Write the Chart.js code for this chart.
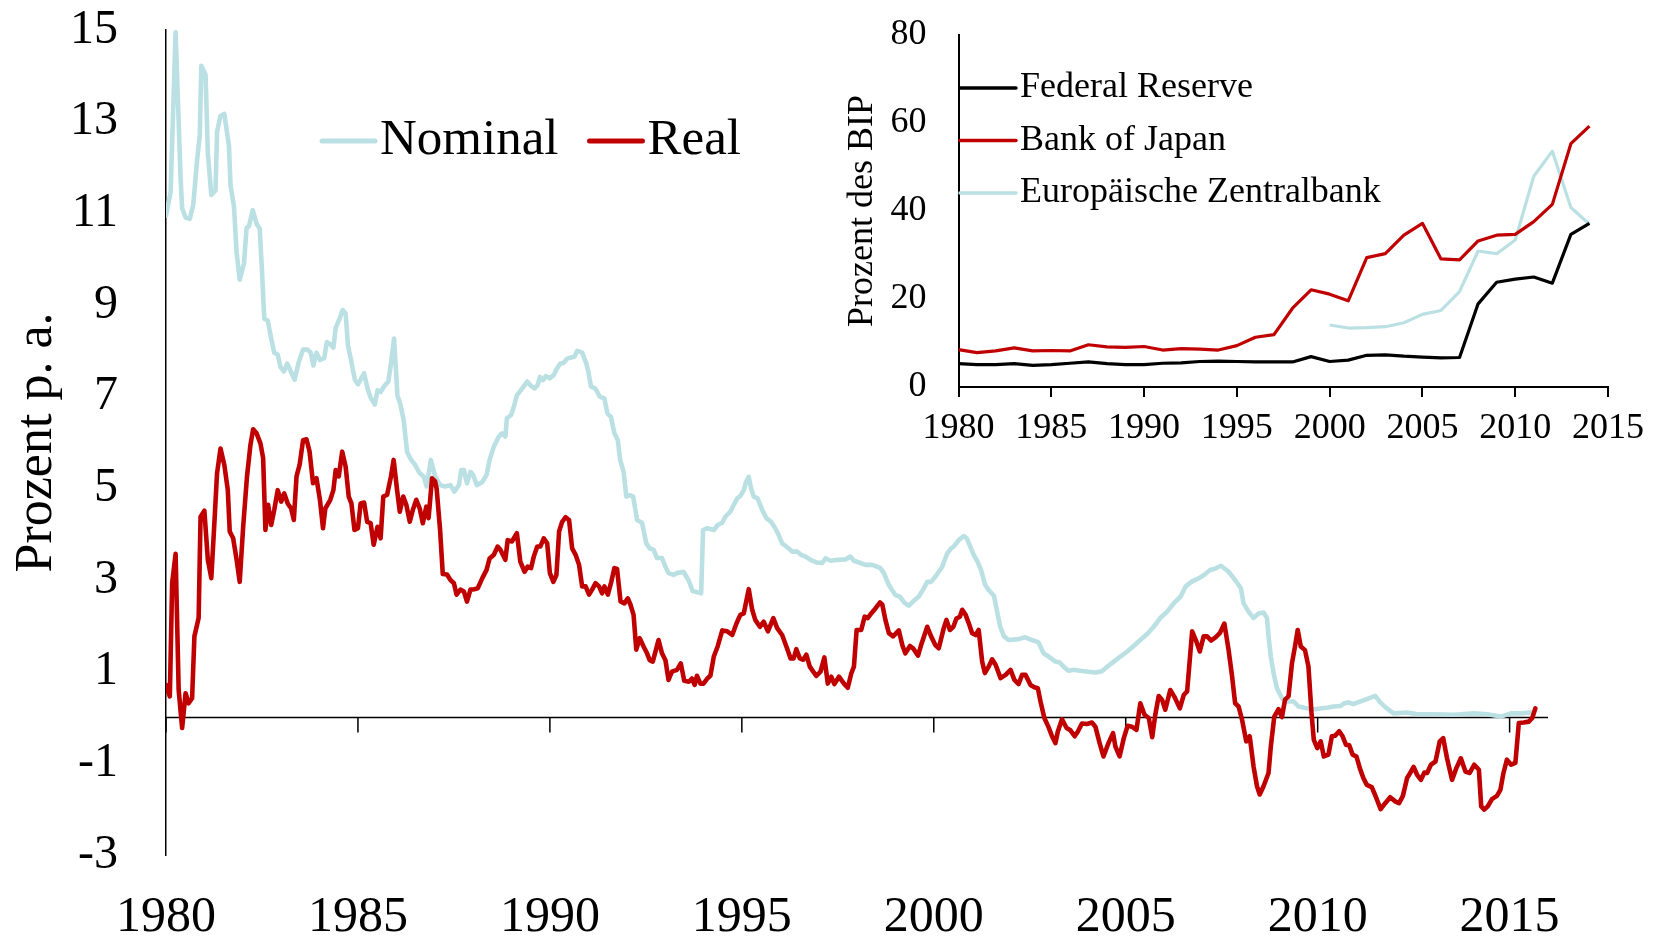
<!DOCTYPE html>
<html lang="de">
<head>
<meta charset="utf-8">
<title>Zinsen und Zentralbankbilanzen</title>
<script src="https://cdn.jsdelivr.net/npm/chart.js"></script>
<style>
  html, body { margin: 0; padding: 0; background: #fff; }
  #wrap { position: relative; width: 1659px; height: 941px; }
  #wrap canvas { position: absolute; left: 0; top: 0; }
  #inset { pointer-events: none; }
</style>
</head>
<body>
<div id="wrap">
  <canvas id="haupt" width="1659" height="941"></canvas>
  <canvas id="inset" width="1659" height="941"></canvas>
</div>
<script>
// Hauptgrafik: Zinsen in Prozent p. a., Punkte [Jahr, Wert]
const nominal = [
  [1980.00, 10.95], [1980.12, 11.46], [1980.25, 14.95], [1980.38, 11.77], [1980.42, 11.11],
  [1980.51, 10.91], [1980.62, 10.88], [1980.71, 11.19], [1980.81, 12.16], [1980.88, 12.70],
  [1980.92, 14.22], [1981.03, 14.03], [1981.09, 12.32], [1981.18, 11.40], [1981.29, 11.50],
  [1981.33, 12.78], [1981.42, 13.13], [1981.52, 13.17], [1981.64, 12.47], [1981.68, 11.62],
  [1981.77, 11.15], [1981.84, 10.14], [1981.92, 9.55], [1982.03, 9.90], [1982.10, 10.68],
  [1982.16, 10.72], [1982.26, 11.07], [1982.36, 10.77], [1982.44, 10.67], [1982.50, 9.75],
  [1982.56, 8.70], [1982.65, 8.66], [1982.74, 8.27], [1982.82, 7.96], [1982.91, 7.92],
  [1982.98, 7.65], [1983.07, 7.55], [1983.16, 7.72], [1983.24, 7.57], [1983.35, 7.37],
  [1983.46, 7.76], [1983.57, 8.03], [1983.68, 8.03], [1983.77, 7.96], [1983.84, 7.68],
  [1983.92, 7.96], [1984.01, 7.80], [1984.12, 7.84], [1984.19, 8.19], [1984.27, 8.15],
  [1984.36, 8.07], [1984.42, 8.50], [1984.53, 8.72], [1984.60, 8.89], [1984.68, 8.81],
  [1984.74, 8.11], [1984.81, 7.84], [1984.92, 7.37], [1985.00, 7.27], [1985.16, 7.51],
  [1985.25, 7.18], [1985.33, 6.98], [1985.44, 6.83], [1985.51, 7.14], [1985.59, 7.10],
  [1985.68, 7.22], [1985.79, 7.33], [1985.86, 7.72], [1985.94, 8.27], [1986.03, 7.02],
  [1986.10, 6.85], [1986.19, 6.49], [1986.28, 5.80], [1986.38, 5.63], [1986.49, 5.51],
  [1986.60, 5.34], [1986.71, 5.26], [1986.79, 5.04], [1986.90, 5.62], [1987.01, 5.26],
  [1987.14, 5.07], [1987.27, 5.04], [1987.41, 5.07], [1987.51, 4.93], [1987.63, 5.07],
  [1987.69, 5.40], [1987.76, 5.40], [1987.84, 5.11], [1987.93, 5.36], [1988.00, 5.29],
  [1988.10, 5.07], [1988.24, 5.14], [1988.35, 5.29], [1988.43, 5.62], [1988.54, 5.91],
  [1988.67, 6.13], [1988.75, 6.20], [1988.84, 6.13], [1988.88, 6.53], [1988.99, 6.60],
  [1989.06, 6.78], [1989.14, 7.03], [1989.28, 7.18], [1989.41, 7.33], [1989.49, 7.25],
  [1989.60, 7.18], [1989.68, 7.25], [1989.74, 7.43], [1989.82, 7.36], [1989.89, 7.45],
  [1990.00, 7.40], [1990.10, 7.47], [1990.18, 7.61], [1990.27, 7.72], [1990.36, 7.74],
  [1990.45, 7.83], [1990.58, 7.86], [1990.64, 7.87], [1990.71, 8.00], [1990.84, 7.96],
  [1990.95, 7.72], [1991.01, 7.51], [1991.07, 7.22], [1991.18, 7.18], [1991.30, 7.00],
  [1991.42, 6.96], [1991.50, 6.63], [1991.59, 6.56], [1991.68, 6.20], [1991.77, 6.05],
  [1991.83, 5.62], [1991.92, 5.36], [1991.99, 4.82], [1992.08, 4.85], [1992.17, 4.82],
  [1992.27, 4.31], [1992.40, 4.25], [1992.51, 3.80], [1992.60, 3.69], [1992.70, 3.66],
  [1992.79, 3.48], [1992.92, 3.48], [1993.01, 3.29], [1993.09, 3.15], [1993.22, 3.11],
  [1993.31, 3.15], [1993.48, 3.18], [1993.61, 3.00], [1993.72, 2.76], [1993.85, 2.73],
  [1993.94, 2.71], [1993.99, 4.09], [1994.10, 4.13], [1994.27, 4.09], [1994.37, 4.20],
  [1994.49, 4.25], [1994.57, 4.38], [1994.70, 4.49], [1994.79, 4.64], [1994.88, 4.78],
  [1994.96, 4.83], [1995.05, 4.96], [1995.11, 5.14], [1995.18, 5.25], [1995.24, 5.00],
  [1995.31, 4.82], [1995.41, 4.78], [1995.53, 4.53], [1995.64, 4.35], [1995.76, 4.27],
  [1995.87, 4.13], [1995.96, 3.98], [1996.05, 3.80], [1996.16, 3.73], [1996.31, 3.62],
  [1996.44, 3.62], [1996.54, 3.55], [1996.66, 3.51], [1996.79, 3.44], [1996.96, 3.38],
  [1997.09, 3.37], [1997.18, 3.47], [1997.31, 3.42], [1997.48, 3.44], [1997.70, 3.45],
  [1997.83, 3.51], [1997.92, 3.42], [1998.09, 3.37], [1998.22, 3.33], [1998.40, 3.33],
  [1998.52, 3.29], [1998.61, 3.26], [1998.70, 3.15], [1998.83, 2.89], [1999.00, 2.67],
  [1999.11, 2.64], [1999.24, 2.50], [1999.35, 2.44], [1999.46, 2.53], [1999.61, 2.64],
  [1999.72, 2.79], [1999.83, 2.96], [1999.93, 2.96], [2000.04, 3.07], [2000.22, 3.29],
  [2000.35, 3.58], [2000.45, 3.69], [2000.52, 3.73], [2000.65, 3.87], [2000.78, 3.96],
  [2000.86, 3.91], [2000.95, 3.73], [2001.04, 3.55], [2001.14, 3.40], [2001.23, 3.22],
  [2001.34, 2.89], [2001.43, 2.78], [2001.57, 2.65], [2001.64, 2.35], [2001.73, 1.98],
  [2001.83, 1.77], [2001.95, 1.69], [2002.21, 1.71], [2002.38, 1.75], [2002.56, 1.69],
  [2002.73, 1.64], [2002.86, 1.40], [2002.99, 1.33], [2003.17, 1.22], [2003.28, 1.20],
  [2003.38, 1.11], [2003.51, 1.02], [2003.64, 1.04], [2003.90, 1.01], [2004.21, 0.98],
  [2004.38, 1.01], [2004.51, 1.10], [2004.69, 1.22], [2004.86, 1.33], [2005.04, 1.44],
  [2005.19, 1.55], [2005.38, 1.69], [2005.56, 1.82], [2005.73, 1.98], [2005.90, 2.17],
  [2006.08, 2.31], [2006.25, 2.49], [2006.43, 2.64], [2006.56, 2.86], [2006.73, 2.97],
  [2006.91, 3.04], [2007.04, 3.11], [2007.20, 3.22], [2007.34, 3.25], [2007.48, 3.31],
  [2007.68, 3.18], [2007.85, 3.00], [2008.00, 2.82], [2008.07, 2.49], [2008.20, 2.31],
  [2008.33, 2.17], [2008.46, 2.27], [2008.59, 2.29], [2008.68, 2.17], [2008.72, 1.77],
  [2008.78, 1.33], [2008.85, 0.97], [2008.94, 0.64], [2009.07, 0.42], [2009.21, 0.35],
  [2009.37, 0.35], [2009.50, 0.24], [2009.72, 0.20], [2009.93, 0.18], [2010.11, 0.20],
  [2010.28, 0.22], [2010.41, 0.24], [2010.59, 0.25], [2010.69, 0.31], [2010.80, 0.33],
  [2010.93, 0.29], [2011.11, 0.35], [2011.28, 0.40], [2011.50, 0.47], [2011.63, 0.33],
  [2011.80, 0.20], [2011.98, 0.09], [2012.33, 0.11], [2012.59, 0.07], [2013.03, 0.07],
  [2013.55, 0.06], [2014.07, 0.09], [2014.42, 0.07], [2014.77, 0.02], [2015.03, 0.09],
  [2015.29, 0.09], [2015.55, 0.11]
];

const real = [
  [1980.00, 0.71], [1980.10, 0.46], [1980.16, 2.93], [1980.25, 3.57], [1980.33, 0.60],
  [1980.42, -0.23], [1980.51, 0.53], [1980.59, 0.31], [1980.68, 0.42], [1980.74, 1.77],
  [1980.85, 2.17], [1980.90, 4.38], [1981.00, 4.51], [1981.09, 3.44], [1981.18, 3.04],
  [1981.26, 4.24], [1981.33, 5.33], [1981.42, 5.87], [1981.52, 5.51], [1981.61, 4.96],
  [1981.66, 4.06], [1981.75, 3.91], [1981.84, 3.44], [1981.92, 2.96], [1982.01, 4.16],
  [1982.11, 5.26], [1982.20, 5.95], [1982.27, 6.29], [1982.36, 6.20], [1982.46, 5.98],
  [1982.53, 5.66], [1982.59, 4.09], [1982.66, 4.64], [1982.74, 4.20], [1982.82, 4.53],
  [1982.91, 4.96], [1983.00, 4.71], [1983.08, 4.89], [1983.17, 4.67], [1983.26, 4.56],
  [1983.33, 4.31], [1983.40, 5.26], [1983.48, 5.51], [1983.57, 6.05], [1983.66, 6.07],
  [1983.74, 5.80], [1983.83, 5.11], [1983.92, 5.22], [1984.01, 4.75], [1984.09, 4.13],
  [1984.15, 4.56], [1984.28, 4.75], [1984.36, 4.96], [1984.42, 5.40], [1984.50, 5.26],
  [1984.59, 5.80], [1984.68, 5.47], [1984.76, 4.82], [1984.83, 4.67], [1984.91, 4.09],
  [1985.00, 4.13], [1985.07, 4.67], [1985.16, 4.69], [1985.24, 4.27], [1985.33, 4.24],
  [1985.41, 3.77], [1985.51, 4.16], [1985.59, 3.91], [1985.66, 4.82], [1985.76, 4.86],
  [1985.86, 5.26], [1985.93, 5.62], [1986.02, 4.96], [1986.09, 4.49], [1986.18, 4.82],
  [1986.26, 4.64], [1986.35, 4.27], [1986.43, 4.53], [1986.52, 4.75], [1986.61, 4.56],
  [1986.69, 4.24], [1986.78, 4.60], [1986.84, 4.35], [1986.93, 5.22], [1987.01, 5.15],
  [1987.05, 4.99], [1987.14, 4.09], [1987.21, 3.13], [1987.32, 3.12], [1987.41, 3.00],
  [1987.50, 2.93], [1987.57, 2.68], [1987.67, 2.79], [1987.76, 2.75], [1987.84, 2.53],
  [1987.93, 2.79], [1988.03, 2.80], [1988.12, 2.82], [1988.24, 3.04], [1988.35, 3.22],
  [1988.43, 3.47], [1988.54, 3.55], [1988.64, 3.73], [1988.71, 3.66], [1988.84, 3.44],
  [1988.90, 3.87], [1989.01, 3.84], [1989.14, 4.02], [1989.23, 3.40], [1989.34, 3.18],
  [1989.42, 3.29], [1989.51, 3.26], [1989.58, 3.51], [1989.67, 3.73], [1989.75, 3.73],
  [1989.84, 3.91], [1989.93, 3.80], [1990.00, 3.15], [1990.09, 2.96], [1990.17, 3.11],
  [1990.24, 4.06], [1990.32, 4.27], [1990.41, 4.37], [1990.50, 4.31], [1990.58, 3.69],
  [1990.67, 3.55], [1990.76, 3.33], [1990.84, 2.86], [1990.93, 2.86], [1991.02, 2.68],
  [1991.10, 2.79], [1991.19, 2.93], [1991.28, 2.86], [1991.36, 2.71], [1991.42, 2.86],
  [1991.51, 2.68], [1991.60, 2.96], [1991.68, 3.26], [1991.75, 3.24], [1991.84, 2.53],
  [1991.94, 2.49], [1992.03, 2.60], [1992.10, 2.46], [1992.18, 2.24], [1992.25, 1.48],
  [1992.34, 1.73], [1992.44, 1.55], [1992.53, 1.40], [1992.60, 1.25], [1992.68, 1.22],
  [1992.83, 1.69], [1992.92, 1.40], [1993.01, 1.25], [1993.09, 0.82], [1993.18, 1.00],
  [1993.31, 1.04], [1993.41, 1.18], [1993.50, 0.80], [1993.62, 0.78], [1993.70, 0.85],
  [1993.77, 0.71], [1993.83, 0.91], [1993.92, 0.74], [1994.00, 0.74], [1994.10, 0.85],
  [1994.18, 0.91], [1994.27, 1.33], [1994.37, 1.55], [1994.49, 1.90], [1994.62, 1.88],
  [1994.75, 1.80], [1994.86, 2.05], [1994.96, 2.24], [1995.05, 2.27], [1995.18, 2.80],
  [1995.27, 2.35], [1995.35, 2.13], [1995.47, 1.98], [1995.57, 2.09], [1995.68, 1.88],
  [1995.82, 2.17], [1995.92, 1.95], [1996.05, 1.80], [1996.16, 1.55], [1996.27, 1.29],
  [1996.35, 1.29], [1996.42, 1.49], [1996.51, 1.29], [1996.60, 1.26], [1996.68, 1.37],
  [1996.77, 1.11], [1996.86, 1.00], [1996.94, 0.91], [1997.05, 1.00], [1997.15, 1.31],
  [1997.24, 0.74], [1997.33, 0.89], [1997.41, 0.73], [1997.53, 0.89], [1997.66, 0.74],
  [1997.76, 0.65], [1997.85, 0.96], [1997.92, 1.11], [1997.99, 1.91], [1998.11, 1.91],
  [1998.20, 2.20], [1998.28, 2.17], [1998.37, 2.27], [1998.48, 2.38], [1998.60, 2.51],
  [1998.66, 2.46], [1998.74, 2.13], [1998.83, 1.84], [1998.94, 1.77], [1999.09, 1.90],
  [1999.18, 1.58], [1999.26, 1.40], [1999.38, 1.56], [1999.46, 1.51], [1999.59, 1.35],
  [1999.67, 1.58], [1999.83, 1.98], [1999.93, 1.77], [2000.04, 1.58], [2000.13, 1.51],
  [2000.26, 1.95], [2000.33, 2.13], [2000.42, 1.91], [2000.51, 1.98], [2000.59, 2.16],
  [2000.68, 2.20], [2000.74, 2.35], [2000.83, 2.24], [2000.91, 2.06], [2001.00, 1.84],
  [2001.09, 1.80], [2001.17, 1.91], [2001.26, 1.22], [2001.33, 0.97], [2001.43, 1.11],
  [2001.52, 1.27], [2001.61, 1.15], [2001.74, 0.86], [2001.87, 0.93], [2002.00, 1.04],
  [2002.10, 0.82], [2002.21, 0.73], [2002.30, 0.93], [2002.39, 0.93], [2002.52, 0.71],
  [2002.62, 0.66], [2002.71, 0.64], [2002.78, 0.35], [2002.88, -0.01], [2002.99, -0.21],
  [2003.08, -0.41], [2003.17, -0.56], [2003.23, -0.31], [2003.34, -0.04], [2003.46, -0.23],
  [2003.56, -0.28], [2003.67, -0.41], [2003.75, -0.31], [2003.86, -0.13], [2003.99, -0.14],
  [2004.12, -0.11], [2004.21, -0.20], [2004.32, -0.56], [2004.42, -0.85], [2004.55, -0.56],
  [2004.67, -0.34], [2004.73, -0.63], [2004.84, -0.85], [2004.95, -0.45], [2005.05, -0.18],
  [2005.16, -0.20], [2005.28, -0.27], [2005.38, 0.31], [2005.49, 0.06], [2005.60, -0.01],
  [2005.69, -0.43], [2005.77, 0.06], [2005.86, 0.47], [2005.95, 0.38], [2006.03, 0.17],
  [2006.16, 0.60], [2006.27, 0.45], [2006.41, 0.20], [2006.51, 0.49], [2006.60, 0.57],
  [2006.73, 1.88], [2006.84, 1.66], [2006.93, 1.44], [2007.03, 1.77], [2007.12, 1.77],
  [2007.22, 1.68], [2007.34, 1.75], [2007.45, 1.84], [2007.57, 2.05], [2007.68, 1.47],
  [2007.77, 0.90], [2007.85, 0.31], [2007.94, 0.24], [2008.03, -0.05], [2008.14, -0.52],
  [2008.23, -0.41], [2008.33, -1.07], [2008.42, -1.50], [2008.49, -1.68], [2008.59, -1.50],
  [2008.72, -1.21], [2008.78, -0.63], [2008.87, 0.02], [2008.98, 0.18], [2009.07, 0.01],
  [2009.15, 0.39], [2009.24, 0.46], [2009.33, 1.18], [2009.41, 1.55], [2009.48, 1.91],
  [2009.56, 1.55], [2009.67, 1.47], [2009.76, 1.11], [2009.84, 0.09], [2009.90, -0.49],
  [2009.99, -0.67], [2010.08, -0.52], [2010.16, -0.85], [2010.28, -0.81], [2010.37, -0.41],
  [2010.45, -0.40], [2010.56, -0.30], [2010.65, -0.41], [2010.74, -0.60], [2010.82, -0.60],
  [2010.91, -0.81], [2011.01, -0.85], [2011.10, -1.11], [2011.19, -1.32], [2011.28, -1.47],
  [2011.41, -1.52], [2011.52, -1.74], [2011.64, -2.00], [2011.76, -1.87], [2011.89, -1.74],
  [2012.02, -1.83], [2012.12, -1.87], [2012.22, -1.71], [2012.33, -1.32], [2012.41, -1.21],
  [2012.50, -1.08], [2012.59, -1.25], [2012.69, -1.36], [2012.78, -1.20], [2012.85, -1.21],
  [2012.95, -1.03], [2013.07, -0.96], [2013.18, -0.52], [2013.27, -0.45], [2013.37, -0.89],
  [2013.50, -1.36], [2013.61, -1.11], [2013.73, -0.89], [2013.85, -1.18], [2013.96, -1.21],
  [2014.08, -1.03], [2014.20, -1.14], [2014.26, -1.94], [2014.34, -2.01], [2014.43, -1.94],
  [2014.54, -1.78], [2014.67, -1.71], [2014.76, -1.58], [2014.84, -1.21], [2014.93, -0.92],
  [2015.04, -1.03], [2015.15, -0.99], [2015.24, -0.12], [2015.37, -0.11], [2015.50, -0.09],
  [2015.59, -0.01], [2015.67, 0.20]
];

// Nebengrafik: Zentralbankbilanzen in Prozent des BIP (Jahreswerte)
const bipJahre = [1980, 1981, 1982, 1983, 1984, 1985, 1986, 1987, 1988, 1989,
                  1990, 1991, 1992, 1993, 1994, 1995, 1996, 1997, 1998, 1999,
                  2000, 2001, 2002, 2003, 2004, 2005, 2006, 2007, 2008, 2009,
                  2010, 2011, 2012, 2013, 2014];
const fed = [5.3, 5.1, 5.1, 5.3, 4.9, 5.1, 5.4, 5.7, 5.3, 5.1,
             5.1, 5.4, 5.5, 5.8, 5.9, 5.8, 5.7, 5.7, 5.7, 6.9,
             5.8, 6.1, 7.2, 7.3, 7.0, 6.8, 6.6, 6.7, 18.9, 23.8,
             24.5, 25.0, 23.6, 34.7, 37.2];
const boj = [8.5, 7.8, 8.2, 8.9, 8.2, 8.3, 8.2, 9.6, 9.1, 9.0,
             9.2, 8.4, 8.7, 8.6, 8.4, 9.4, 11.3, 11.9, 17.9, 22.1,
             21.1, 19.6, 29.4, 30.3, 34.5, 37.2, 29.1, 28.9, 33.2, 34.5,
             34.7, 37.6, 41.5, 55.3, 59.3];
const ezbJahre = [2000, 2001, 2002, 2003, 2004, 2005, 2006, 2007, 2008, 2009,
                  2010, 2011, 2012, 2013, 2014];
const ezb = [14.1, 13.4, 13.5, 13.7, 14.6, 16.5, 17.4, 21.7, 30.9, 30.3,
             33.4, 47.9, 53.6, 40.8, 37.0];

// Achsenbeschriftungen
const jahresTicks = [1980, 1985, 1990, 1995, 2000, 2005, 2010, 2015];
const zinsTicks = [-3, -1, 1, 3, 5, 7, 9, 11, 13, 15];
const bipTicks = [0, 20, 40, 60, 80];

const HELLBLAU = '#BBE0E3';
const ROT = '#C00000';
const SCHRIFT = "'Liberation Serif', 'Times New Roman', serif";

// Nulllinie mit Jahresstrichen (die x-Beschriftung sitzt unten)
const nulllinie = {
  id: 'nulllinie',
  beforeDatasetsDraw(chart, args, opts) {
    const { ctx, chartArea, scales } = chart;
    const y0 = scales.y.getPixelForValue(0);
    ctx.save();
    ctx.strokeStyle = '#000';
    ctx.lineWidth = opts.lineWidth;
    ctx.beginPath();
    ctx.moveTo(chartArea.left, y0);
    ctx.lineTo(chartArea.right, y0);
    scales.x.ticks.forEach(t => {
      const px = scales.x.getPixelForValue(t.value);
      ctx.moveTo(px, y0);
      ctx.lineTo(px, y0 + opts.tickLength);
    });
    ctx.stroke();
    ctx.restore();
  }
};

// Legende mit kurzen Linien, frei im Diagramm platziert
const linienLegende = {
  id: 'linienLegende',
  afterDraw(chart, args, opts) {
    const { ctx } = chart;
    ctx.save();
    ctx.font = opts.size + 'px ' + SCHRIFT;
    ctx.textBaseline = 'middle';
    ctx.textAlign = 'left';
    let x = opts.x, y = opts.y;
    chart.data.datasets.forEach(ds => {
      ctx.strokeStyle = ds.borderColor;
      ctx.lineWidth = opts.lineWidth;
      ctx.lineCap = 'round';
      ctx.beginPath();
      ctx.moveTo(x, y);
      ctx.lineTo(x + opts.lineLength, y);
      ctx.stroke();
      ctx.fillStyle = '#000';
      ctx.fillText(ds.label, x + opts.lineLength + opts.textGap, y + opts.textShift);
      if (opts.horizontal) {
        x += opts.lineLength + opts.textGap + ctx.measureText(ds.label).width + opts.itemGap;
      } else {
        y += opts.rowGap;
      }
    });
    ctx.restore();
  }
};

const punkte = arr => arr.map(([x, y]) => ({ x, y }));
const reihe = (jahre, werte) => jahre.map((j, i) => ({ x: j, y: werte[i] }));

// feste Breite der y-Achse; der Beschriftungsabstand soll den Plotbereich nicht verkleinern
const festeYAchse = breite => s => {
  s.width = breite;
  s.paddingTop = 0;
  s.paddingBottom = 0;
};

new Chart(document.getElementById('haupt'), {
  type: 'line',
  data: {
    datasets: [
      { label: 'Nominal', data: punkte(nominal), borderColor: HELLBLAU, backgroundColor: HELLBLAU, borderWidth: 4.6, order: 1 },
      { label: 'Real', data: punkte(real), borderColor: ROT, backgroundColor: ROT, borderWidth: 4.6, order: 0 }
    ]
  },
  options: {
    responsive: false,
    animation: false,
    devicePixelRatio: 1,
    elements: {
      point: { radius: 0 },
      line: { tension: 0, borderJoinStyle: 'round', borderCapStyle: 'round' }
    },
    layout: { padding: { left: 0, right: 111, top: 30, bottom: 0 } },
    scales: {
      x: {
        type: 'linear',
        min: 1980,
        max: 2016,
        afterBuildTicks: s => { s.ticks = jahresTicks.map(v => ({ value: v })); },
        afterFit: s => { s.height = 86; },
        grid: { display: false, drawTicks: false },
        border: { display: false },
        ticks: {
          font: { family: SCHRIFT, size: 50 },
          color: '#000',
          padding: 33,
          maxRotation: 0,
          autoSkip: false,
          callback: v => String(v)
        }
      },
      y: {
        min: -3,
        max: 15,
        afterBuildTicks: s => { s.ticks = zinsTicks.map(v => ({ value: v })); },
        afterFit: festeYAchse(166),
        grid: { display: false, drawTicks: false },
        border: { display: true, color: '#000', width: 1.5 },
        ticks: {
          font: { family: SCHRIFT, size: 48 },
          color: '#000',
          padding: 48,
          callback: v => String(v)
        },
        title: {
          display: true,
          text: 'Prozent p. a.',
          font: { family: SCHRIFT, size: 52 },
          color: '#000',
          padding: { top: 6, bottom: 0 }
        }
      }
    },
    plugins: {
      legend: { display: false },
      tooltip: { enabled: false },
      nulllinie: { lineWidth: 1.5, tickLength: 15 },
      linienLegende: {
        x: 322, y: 141, horizontal: true, size: 51,
        lineLength: 53, lineWidth: 5, textGap: 5, itemGap: 31, textShift: 0
      }
    }
  },
  plugins: [nulllinie, linienLegende]
});

new Chart(document.getElementById('inset'), {
  type: 'line',
  data: {
    datasets: [
      { label: 'Federal Reserve', data: reihe(bipJahre, fed), borderColor: '#000000', borderWidth: 3.2 },
      { label: 'Bank of Japan', data: reihe(bipJahre, boj), borderColor: ROT, borderWidth: 3.2 },
      { label: 'Europäische Zentralbank', data: reihe(ezbJahre, ezb), borderColor: HELLBLAU, borderWidth: 3.2 }
    ]
  },
  options: {
    responsive: false,
    animation: false,
    devicePixelRatio: 1,
    elements: {
      point: { radius: 0 },
      line: { tension: 0, borderJoinStyle: 'round' }
    },
    layout: { padding: { left: 820, right: 51, top: 35, bottom: 0 } },
    scales: {
      x: {
        type: 'linear',
        min: 1980,
        max: 2015,
        afterBuildTicks: s => { s.ticks = jahresTicks.map(v => ({ value: v })); },
        afterFit: s => { s.height = 554; },
        grid: { display: true, drawOnChartArea: false, drawTicks: true, tickLength: 10, color: '#000', lineWidth: 2 },
        border: { display: true, color: '#000', width: 2 },
        ticks: {
          font: { family: SCHRIFT, size: 36 },
          color: '#000',
          padding: 10,
          maxRotation: 0,
          autoSkip: false,
          callback: v => String(v)
        }
      },
      y: {
        min: 0,
        max: 80,
        afterBuildTicks: s => { s.ticks = bipTicks.map(v => ({ value: v })); },
        afterFit: festeYAchse(138.5),
        grid: { display: false, drawTicks: false },
        border: { display: true, color: '#000', width: 2 },
        ticks: {
          font: { family: SCHRIFT, size: 36 },
          color: '#000',
          padding: 32,
          callback: v => String(v)
        },
        title: {
          display: true,
          text: 'Prozent des BIP',
          font: { family: SCHRIFT, size: 36 },
          color: '#000',
          padding: { top: 21, bottom: 0 }
        }
      }
    },
    plugins: {
      legend: { display: false },
      tooltip: { enabled: false },
      linienLegende: {
        x: 960, y: 88, horizontal: false, size: 36, rowGap: 52.5,
        lineLength: 56, lineWidth: 3.5, textGap: 4, textShift: 0
      }
    }
  },
  plugins: [linienLegende]
});
</script>
</body>
</html>
